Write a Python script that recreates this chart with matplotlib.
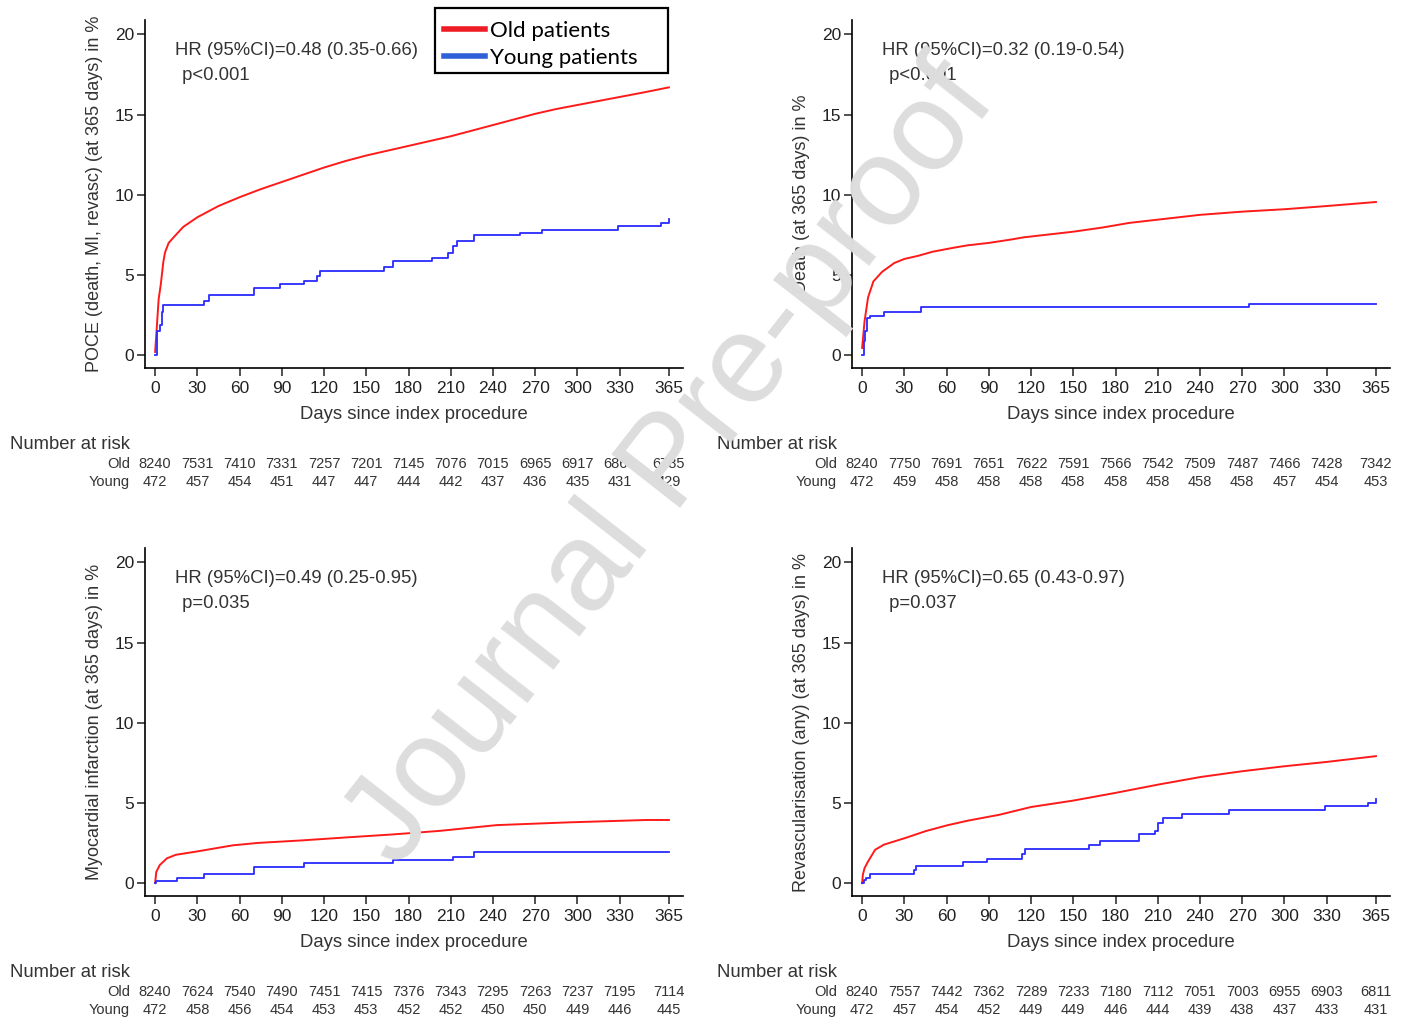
import matplotlib
matplotlib.use("Agg")
import matplotlib.pyplot as plt
from matplotlib.lines import Line2D
from matplotlib.patches import Rectangle

plt.rcParams['font.family'] = ['Liberation Sans', 'DejaVu Sans']

# Kaplan-Meier style cumulative incidence
days_ticks = [0, 30, 60, 90, 120, 150, 180, 210, 240, 270, 300, 330, 365]

# POCE (top left)
poce_old_days = [0, 1, 2.5, 4, 5.8, 7, 9.6, 14.7, 20, 30, 45, 60, 75, 90, 105, 120, 135, 150, 165, 180,
                 195, 210, 225, 240, 255, 270, 285, 300, 315, 330, 348, 365]
poce_old_risk = [0.2, 1.5, 3.5, 4.4, 5.8, 6.4, 7.0, 7.5, 8.0, 8.6, 9.3, 9.85, 10.35, 10.8, 11.25, 11.7, 12.1,
                 12.45, 12.75, 13.05, 13.35, 13.65, 14.0, 14.35, 14.7, 15.05, 15.35, 15.6, 15.85, 16.1, 16.4, 16.7]
poce_young_days = [0, 1.5, 3.3, 4.6, 5.8, 34.4, 38.2, 69.9, 88.9, 105.9, 114.7, 117, 162.4, 169.2, 196.6,
                   207.7, 211.5, 214.8, 226.7, 259.1, 274.8, 328.8, 359.7, 365]
poce_young_risk = [0, 1.5, 1.9, 2.7, 3.15, 3.36, 3.73, 4.19, 4.44, 4.65, 4.92, 5.27, 5.48, 5.85, 6.06,
                   6.37, 6.78, 7.14, 7.47, 7.61, 7.82, 8.03, 8.24, 8.5]
poce_old_n = [8240, 7531, 7410, 7331, 7257, 7201, 7145, 7076, 7015, 6965, 6917, 6868, 6785]
poce_young_n = [472, 457, 454, 451, 447, 447, 444, 442, 437, 436, 435, 431, 429]

# Death (top right)
death_old_days = [0, 1.7, 4.2, 8, 14.2, 22.9, 30, 40, 50, 65, 75, 90, 105, 115, 130, 150, 170, 190, 210,
                  225, 240, 270, 300, 330, 365]
death_old_risk = [0.45, 2.1, 3.6, 4.6, 5.2, 5.75, 6.0, 6.2, 6.45, 6.7, 6.85, 7.0, 7.2, 7.35, 7.5, 7.7, 7.95,
                  8.25, 8.45, 8.6, 8.75, 8.95, 9.1, 9.3, 9.55]
death_young_days = [0, 1, 1.7, 3.5, 5.5, 15.4, 41.6, 274.5, 365]
death_young_risk = [0, 0.87, 1.5, 2.3, 2.43, 2.7, 2.99, 3.2, 3.2]
death_old_n = [8240, 7750, 7691, 7651, 7622, 7591, 7566, 7542, 7509, 7487, 7466, 7428, 7342]
death_young_n = [472, 459, 458, 458, 458, 458, 458, 458, 458, 458, 457, 454, 453]

# Myocardial infarction (bottom left)
mi_old_days = [0, 0.8, 3.3, 8.4, 14.7, 29.9, 55.2, 73, 103, 138.8, 169, 202, 242.6, 293, 349, 365]
mi_old_risk = [0, 0.7, 1.13, 1.55, 1.77, 1.98, 2.36, 2.51, 2.66, 2.87, 3.04, 3.26, 3.62, 3.79, 3.94, 3.94]
mi_young_days = [0, 0.5, 15.5, 34.4, 69.9, 105.9, 169.2, 211.5, 226.7, 365]
mi_young_risk = [0, 0.13, 0.34, 0.55, 1.02, 1.28, 1.45, 1.66, 1.94, 1.94]
mi_old_n = [8240, 7624, 7540, 7490, 7451, 7415, 7376, 7343, 7295, 7263, 7237, 7195, 7114]
mi_young_n = [472, 458, 456, 454, 453, 453, 452, 452, 450, 450, 449, 446, 445]

# Revascularisation (bottom right)
rev_old_days = [0, 0.5, 1.7, 4.2, 9.2, 15.4, 30.4, 45.3, 60, 75.2, 97.7, 120, 150, 180, 210.5, 240.4, 270,
                300, 330, 365]
rev_old_risk = [0, 0.52, 0.94, 1.35, 2.08, 2.4, 2.81, 3.25, 3.6, 3.9, 4.27, 4.75, 5.15, 5.63, 6.15, 6.62,
                6.98, 7.29, 7.56, 7.92]
rev_young_days = [0, 1, 3, 5.5, 36.6, 38, 71.5, 89, 113.8, 116, 161.4, 168.7, 197, 207.8, 210, 213.5,
                  227, 260.4, 329, 359.6, 365]
rev_young_risk = [0, 0.2, 0.31, 0.58, 0.83, 1.08, 1.31, 1.48, 1.8, 2.15, 2.35, 2.65, 3.06, 3.27, 3.75, 4.06,
                  4.31, 4.58, 4.79, 5.0, 5.25]
rev_old_n = [8240, 7557, 7442, 7362, 7289, 7233, 7180, 7112, 7051, 7003, 6955, 6903, 6811]
rev_young_n = [472, 457, 454, 452, 449, 449, 446, 444, 439, 438, 437, 433, 431]

panels = [
    dict(pos=(145, 20), old=(poce_old_days, poce_old_risk), young=(poce_young_days, poce_young_risk),
         ylabel='POCE (death, MI, revasc) (at 365 days) in %',
         hr='HR (95%CI)=0.48 (0.35-0.66)', p=' p<0.001', n=(poce_old_n, poce_young_n)),
    dict(pos=(852, 20), old=(death_old_days, death_old_risk), young=(death_young_days, death_young_risk),
         ylabel='Death (at 365 days) in %',
         hr='HR (95%CI)=0.32 (0.19-0.54)', p=' p<0.001', n=(death_old_n, death_young_n)),
    dict(pos=(145, 548), old=(mi_old_days, mi_old_risk), young=(mi_young_days, mi_young_risk),
         ylabel='Myocardial infarction (at 365 days) in %',
         hr='HR (95%CI)=0.49 (0.25-0.95)', p=' p=0.035', n=(mi_old_n, mi_young_n)),
    dict(pos=(852, 548), old=(rev_old_days, rev_old_risk), young=(rev_young_days, rev_young_risk),
         ylabel='Revascularisation (any) (at 365 days) in %',
         hr='HR (95%CI)=0.65 (0.43-0.97)', p=' p=0.037', n=(rev_old_n, rev_young_n)),
]

W, H = 1409, 1021
fig = plt.figure(figsize=(W / 100, H / 100), dpi=100)
red = '#ff1a1a'
blue = '#2a2aff'
txt = '#333333'
aw, ah = 538, 348

for pn in panels:
    x0, y0 = pn['pos']
    ax = fig.add_axes([x0 / W, 1 - (y0 + ah) / H, aw / W, ah / H])
    ax.plot(*pn['old'], color=red, lw=1.4)
    ax.step(*pn['young'], where='post', color=blue, lw=1.3)
    ax.set_xlim(-7.2, 375)
    ax.set_ylim(-0.8, 20.9)
    ax.set_xticks(days_ticks)
    ax.set_yticks([0, 5, 10, 15, 20])
    for s in ['top', 'right']:
        ax.spines[s].set_visible(False)
    for s in ['left', 'bottom']:
        ax.spines[s].set_linewidth(1.2)
    ax.tick_params(direction='out', length=6, width=1.1, labelsize=12.5, colors='#222222')
    ax.tick_params(axis='y', pad=2)
    ax.set_xlabel('Days since index procedure', fontsize=13.3, labelpad=7, color=txt)
    ax.set_ylabel(pn['ylabel'], fontsize=13, labelpad=8, color=txt)
    ax.text(14, 19.0, pn['hr'], fontsize=13.3, va='center', ha='left', color=txt)
    ax.text(15.5, 17.45, pn['p'], fontsize=13.3, va='center', ha='left', color=txt)

    # number at risk table
    fig.text((x0 - 135) / W, 1 - (y0 + ah + 76) / H, 'Number at risk', fontsize=13.3,
             va='center', ha='left', color=txt)
    for row, lab, dy in [(pn['n'][0], 'Old', 96), (pn['n'][1], 'Young', 114)]:
        fig.text((x0 - 15) / W, 1 - (y0 + ah + dy) / H, lab, fontsize=10.5,
                 va='center', ha='right', color=txt)
        for d, v in zip(days_ticks, row):
            ax.text(d, -dy / ah, str(v), transform=ax.get_xaxis_transform(), fontsize=10.5,
                    ha='center', va='center', clip_on=False, color=txt)

# legend box drawn as in the source (box wider than its entries)
fig.add_artist(Rectangle((435 / W, 1 - 73 / H), 233 / W, 65 / H, transform=fig.transFigure,
                         facecolor='white', edgecolor='black', lw=1.6, zorder=4))
handles = [Line2D([], [], color='#ee1c25', lw=4), Line2D([], [], color='#3060d8', lw=4)]
leg = fig.legend(handles, ['Old patients', 'Young patients'], loc='upper left',
                 bbox_to_anchor=(444 / W, 1 - 21 / H), frameon=False,
                 prop={'family': 'Lato', 'size': 16}, handlelength=1.85, handletextpad=0.2,
                 borderpad=0, labelspacing=0.3, borderaxespad=0)
leg.set_zorder(5)

fig.text(672 / W, 1 - 465 / H, 'Journal Pre-proof', rotation=52, fontsize=91, color='#dddddd',
         ha='center', va='center', zorder=10)

fig.savefig('out.png', dpi=100)
